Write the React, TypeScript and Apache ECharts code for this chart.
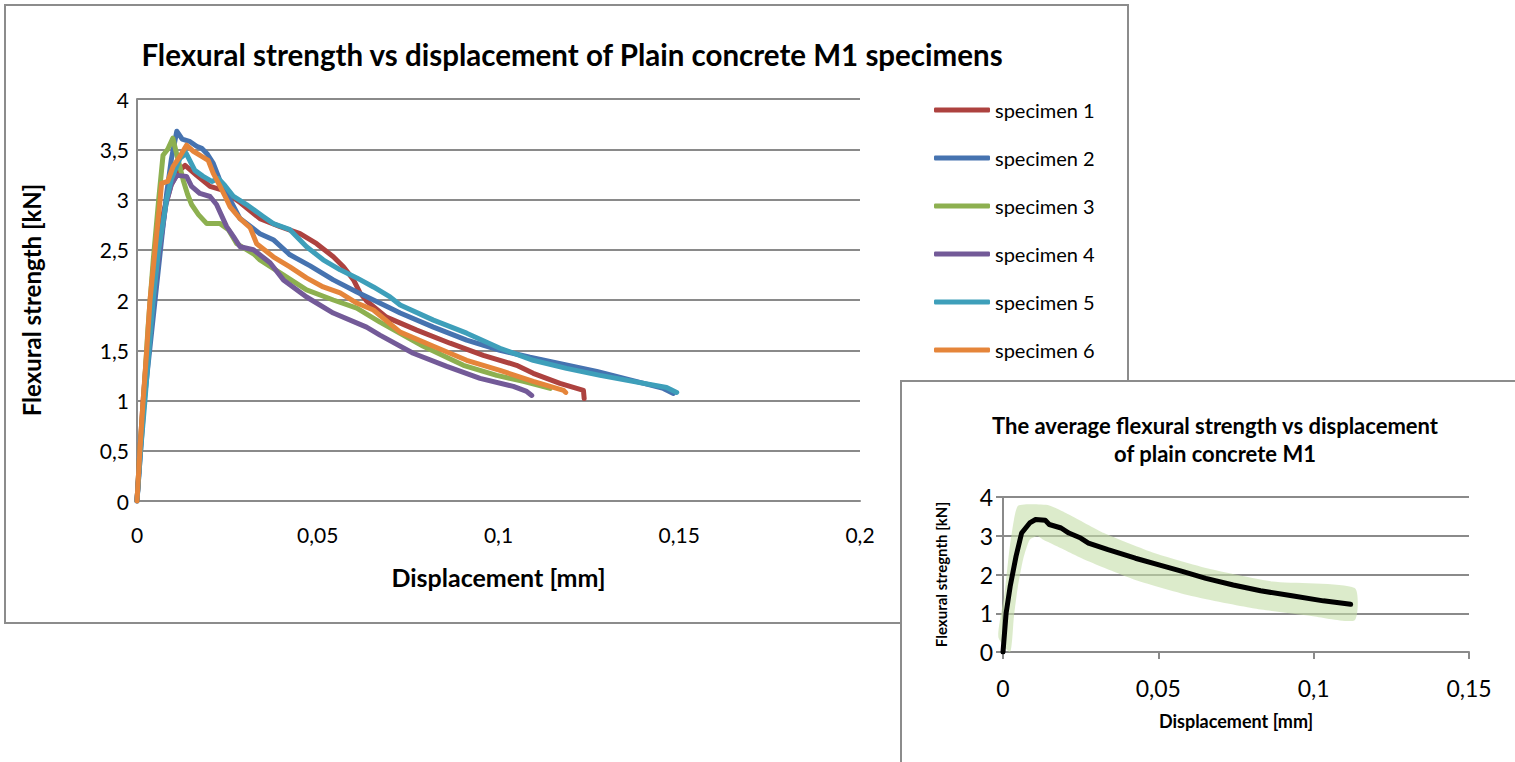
import React, { useEffect, useRef } from "react";
import * as echarts from "echarts";

const seriesNames = ["specimen 1", "specimen 2", "specimen 3", "specimen 4", "specimen 5", "specimen 6"];
const seriesColors = ["#AD423F", "#4673B0", "#8DB050", "#735A98", "#3E9FBA", "#E5853A"];

const s1x = [0, 0.0008, 0.0017, 0.0028, 0.004, 0.0055, 0.0075, 0.0095, 0.0115, 0.0133, 0.0165, 0.0202, 0.0239, 0.0285, 0.034, 0.0396, 0.0451, 0.0497, 0.0543, 0.0571, 0.0599, 0.0617, 0.0635, 0.069, 0.0774, 0.0866, 0.0958, 0.105, 0.1096, 0.117, 0.1235, 0.1237];
const s1y = [0, 0.5, 1.0, 1.5, 2.0, 2.5, 2.9, 3.15, 3.28, 3.34, 3.24, 3.13, 3.09, 2.97, 2.81, 2.73, 2.66, 2.56, 2.43, 2.33, 2.2, 2.07, 1.99, 1.83, 1.7, 1.57, 1.45, 1.35, 1.27, 1.17, 1.1, 1.02];

const s2x = [0, 0.001, 0.002, 0.0035, 0.005, 0.0065, 0.0082, 0.0095, 0.011, 0.0125, 0.0147, 0.0165, 0.0179, 0.0195, 0.0211, 0.0225, 0.0239, 0.0257, 0.0285, 0.034, 0.0377, 0.0423, 0.0479, 0.0543, 0.0608, 0.07, 0.0728, 0.082, 0.0912, 0.1004, 0.1087, 0.1272, 0.1456, 0.1484];
const s2y = [0, 0.5, 1.0, 1.5, 2.0, 2.5, 3.06, 3.4, 3.68, 3.6, 3.575, 3.53, 3.51, 3.45, 3.36, 3.23, 3.09, 3.0, 2.81, 2.66, 2.6, 2.45, 2.34, 2.2, 2.08, 1.92, 1.87, 1.73, 1.6, 1.5, 1.43, 1.29, 1.12, 1.07];

const s3x = [0, 0.0008, 0.0018, 0.003, 0.0045, 0.006, 0.0072, 0.0085, 0.0099, 0.011, 0.0128, 0.014, 0.0151, 0.017, 0.0193, 0.023, 0.0253, 0.0276, 0.0322, 0.034, 0.0396, 0.0469, 0.0543, 0.0608, 0.0672, 0.0792, 0.0903, 0.0995, 0.1069, 0.1143];
const s3y = [0, 0.5, 1.0, 1.7, 2.4, 3.0, 3.44, 3.5, 3.61, 3.45, 3.19, 3.05, 2.95, 2.85, 2.76, 2.76, 2.7, 2.56, 2.46, 2.4, 2.27, 2.1, 2.0, 1.92, 1.78, 1.54, 1.35, 1.25, 1.19, 1.12];

const s4x = [0, 0.0009, 0.0019, 0.0031, 0.0046, 0.0062, 0.008, 0.0095, 0.011, 0.0137, 0.0151, 0.0174, 0.0202, 0.022, 0.0248, 0.0267, 0.0285, 0.0322, 0.0368, 0.0405, 0.0469, 0.0543, 0.0635, 0.0672, 0.0764, 0.0857, 0.0949, 0.1041, 0.1078, 0.1092];
const s4y = [0, 0.5, 1.0, 1.5, 2.0, 2.5, 2.95, 3.15, 3.24, 3.23, 3.13, 3.06, 3.03, 2.95, 2.73, 2.63, 2.53, 2.5, 2.37, 2.2, 2.03, 1.87, 1.73, 1.65, 1.47, 1.34, 1.22, 1.14, 1.09, 1.05];

const s5x = [0, 0.001, 0.0022, 0.0033, 0.0045, 0.006, 0.0082, 0.0095, 0.0119, 0.0136, 0.016, 0.0183, 0.0207, 0.0225, 0.0243, 0.0267, 0.0303, 0.0349, 0.0377, 0.0423, 0.0469, 0.0515, 0.0562, 0.0608, 0.0654, 0.07, 0.0728, 0.082, 0.0912, 0.1004, 0.1096, 0.1188, 0.1281, 0.1465, 0.1493];
const s5y = [0, 0.5, 1.0, 1.5, 2.0, 2.5, 3.0, 3.2, 3.41, 3.46, 3.29, 3.23, 3.18, 3.21, 3.14, 3.03, 2.95, 2.83, 2.76, 2.7, 2.53, 2.4, 2.3, 2.22, 2.13, 2.03, 1.95, 1.8, 1.67, 1.52, 1.4, 1.32, 1.25, 1.13, 1.08];

const s6x = [0, 0.0008, 0.0017, 0.0027, 0.0036, 0.005, 0.0064, 0.0068, 0.0085, 0.01, 0.0119, 0.0137, 0.0156, 0.0179, 0.0197, 0.0211, 0.023, 0.0248, 0.0257, 0.0285, 0.0313, 0.0331, 0.0377, 0.0423, 0.0469, 0.0515, 0.0562, 0.0608, 0.0654, 0.0728, 0.082, 0.0912, 0.1004, 0.1096, 0.118, 0.1186];
const s6y = [0, 0.5, 1.0, 1.5, 2.0, 2.5, 3.0, 3.16, 3.18, 3.33, 3.43, 3.54, 3.48, 3.43, 3.39, 3.26, 3.13, 3.0, 2.93, 2.81, 2.72, 2.56, 2.43, 2.33, 2.22, 2.13, 2.07, 1.97, 1.9, 1.68, 1.54, 1.4, 1.3, 1.19, 1.1, 1.08];

const avgX = [0, 0.001, 0.0023, 0.0042, 0.006, 0.0073, 0.0086, 0.0105, 0.0136, 0.0149, 0.0187, 0.0212, 0.025, 0.0275, 0.0338, 0.0426, 0.0502, 0.0577, 0.0653, 0.0741, 0.0829, 0.093, 0.1031, 0.1119];
const avgY = [0, 1.0, 1.69, 2.47, 3.07, 3.2, 3.33, 3.42, 3.4, 3.29, 3.2, 3.07, 2.94, 2.81, 2.64, 2.42, 2.25, 2.08, 1.9, 1.73, 1.58, 1.45, 1.32, 1.23];

const bandUpperX = [-0.0015, 0.0005, 0.002, 0.0035, 0.0048, 0.0092, 0.0149, 0.0212, 0.0325, 0.0489, 0.0678, 0.0867, 0.1132];
const bandUpperY = [0.39, 1.5, 2.6, 3.4, 3.77, 3.81, 3.78, 3.55, 3.07, 2.55, 2.12, 1.82, 1.65];
const bandLowerX = [0.0023, 0.0035, 0.0048, 0.0065, 0.0086, 0.0111, 0.013, 0.0174, 0.0275, 0.0426, 0.0615, 0.0804, 0.0993, 0.1132];
const bandLowerY = [0, 0.9, 1.69, 2.4, 2.9, 2.99, 2.9, 2.73, 2.34, 1.86, 1.43, 1.13, 0.93, 0.82];

const mainXTicks = { min: 0, max: 0.2, interval: 0.05 };
const mainYTicks = { min: 0, max: 4, interval: 0.5 };
const insetXTicks = { min: 0, max: 0.15, interval: 0.05 };
const insetYTicks = { min: 0, max: 4, interval: 1 };

const FONT = "Lato, 'Open Sans', sans-serif";
const GRID = "#8a8a8a";
const comma = (v: number) => String(Number(v.toFixed(4))).replace(".", ",");
const zip = (xs: number[], ys: number[]) => xs.map((x, i) => [x, ys[i]]);

export default function App() {
  const mainRef = useRef<HTMLDivElement>(null);
  const insetRef = useRef<HTMLDivElement>(null);

  useEffect(() => {
    const main = echarts.init(mainRef.current!, null, { renderer: "svg" });
    const inset = echarts.init(insetRef.current!, null, { renderer: "svg" });
    const allX = [s1x, s2x, s3x, s4x, s5x, s6x];
    const allY = [s1y, s2y, s3y, s4y, s5y, s6y];

    main.setOption({
      animation: false,
      backgroundColor: "#fff",
      title: {
        text: "Flexural strength vs displacement of Plain concrete M1 specimens",
        left: 567,
        textAlign: "center",
        top: 34,
        textStyle: { fontFamily: FONT, fontWeight: "bold", fontSize: 29.5, color: "#000" },
      },
      legend: {
        orient: "vertical",
        left: 934,
        top: 100,
        padding: 0,
        icon: "roundRect",
        itemWidth: 56,
        itemHeight: 5,
        itemGap: 28,
        textStyle: { fontFamily: FONT, fontSize: 20, color: "#000", lineHeight: 20, padding: [0, 0, 0, 0] },
        data: seriesNames,
      },
      graphic: [
        { type: "rect", shape: { x: 5, y: 5, width: 1123, height: 618 }, style: { fill: "none", stroke: "#8c8c8c", lineWidth: 2 } },
      ],
      grid: { left: 137, top: 99, width: 723, height: 402 },
      xAxis: {
        type: "value",
        ...mainXTicks,
        name: "Displacement [mm]",
        nameLocation: "middle",
        nameGap: 63,
        nameTextStyle: { fontFamily: FONT, fontWeight: "bold", fontSize: 25, color: "#000" },
        axisLine: { show: true, lineStyle: { color: GRID, width: 2 } },
        axisTick: { show: false },
        splitLine: { show: false },
        axisLabel: { formatter: comma, fontFamily: FONT, fontSize: 21, color: "#000", margin: 23 },
      },
      yAxis: {
        type: "value",
        ...mainYTicks,
        name: "Flexural strength [kN]",
        nameLocation: "middle",
        nameGap: 94,
        nameTextStyle: { fontFamily: FONT, fontWeight: "bold", fontSize: 24, color: "#000" },
        axisLine: { show: true, lineStyle: { color: GRID, width: 2 } },
        axisTick: { show: false },
        splitLine: { show: true, lineStyle: { color: GRID, width: 2 } },
        axisLabel: { formatter: comma, fontFamily: FONT, fontSize: 21, color: "#000", margin: 8 },
      },
      series: seriesNames.map((name, i) => ({
        name,
        type: "line",
        data: zip(allX[i], allY[i]),
        showSymbol: false,
        symbol: "none",
        color: seriesColors[i],
        lineStyle: { width: 5, color: seriesColors[i], cap: "round", join: "round" },
      })),
    });

    inset.setOption({
      animation: false,
      backgroundColor: "#fff",
      title: {
        text: "The average flexural strength vs displacement\nof plain concrete M1",
        left: 310,
        textAlign: "center",
        top: 26,
        textStyle: { fontFamily: FONT, fontWeight: "bold", fontSize: 22, color: "#000", lineHeight: 28 },
      },
      graphic: [
        { type: "line", shape: { x1: 1, y1: 0, x2: 1, y2: 382 }, style: { stroke: "#8c8c8c", lineWidth: 2 } },
        { type: "line", shape: { x1: 0, y1: 1, x2: 615, y2: 1 }, style: { stroke: "#8c8c8c", lineWidth: 2 } },
      ],
      grid: { left: 103, top: 117, width: 466, height: 155 },
      xAxis: {
        type: "value",
        ...insetXTicks,
        name: "Displacement [mm]",
        nameLocation: "middle",
        nameGap: 60,
        nameTextStyle: { fontFamily: FONT, fontWeight: "bold", fontSize: 18, color: "#000" },
        axisLine: { show: true, lineStyle: { color: GRID, width: 2 } },
        axisTick: { show: true, inside: false, length: 7, lineStyle: { color: GRID, width: 2 } },
        splitLine: { show: false },
        axisLabel: { formatter: comma, fontFamily: FONT, fontSize: 23, color: "#000", margin: 24 },
      },
      yAxis: {
        type: "value",
        ...insetYTicks,
        name: "Flexural stregnth [kN]",
        nameLocation: "middle",
        nameGap: 55,
        nameTextStyle: { fontFamily: FONT, fontWeight: "bold", fontSize: 15, color: "#000" },
        axisLine: { show: true, lineStyle: { color: GRID, width: 2 } },
        axisTick: { show: true, inside: false, length: 7, lineStyle: { color: GRID, width: 2 } },
        splitLine: { show: true, lineStyle: { color: GRID, width: 2 } },
        axisLabel: { formatter: comma, fontFamily: FONT, fontSize: 23, color: "#000", margin: 10 },
      },
      series: [
        {
          type: "custom",
          clip: false,
          silent: true,
          data: [[0, 0]],
          renderItem: (_params: any, api: any) => {
            const up = bandUpperX.map((x, i) => api.coord([x, bandUpperY[i]]));
            const lo = bandLowerX.map((x, i) => api.coord([x, bandLowerY[i]])).reverse();
            return {
              type: "polygon",
              shape: { points: up.concat(lo), smooth: 0.2 },
              style: { fill: "rgba(196,222,168,0.6)", stroke: "none" },
            };
          },
          z: 3,
        },
        {
          type: "line",
          data: zip(avgX, avgY),
          showSymbol: false,
          symbol: "none",
          lineStyle: { width: 5, color: "#000", cap: "round", join: "round" },
          z: 4,
        },
      ],
    });

    return () => {
      main.dispose();
      inset.dispose();
    };
  }, []);

  return (
    <div style={{ position: "absolute", left: 0, top: 0, width: 1515, height: 762, background: "#fff" }}>
      <div ref={mainRef} style={{ position: "absolute", left: 0, top: 0, width: 1515, height: 762 }} />
      <div ref={insetRef} style={{ position: "absolute", left: 900, top: 380, width: 615, height: 382 }} />
    </div>
  );
}
